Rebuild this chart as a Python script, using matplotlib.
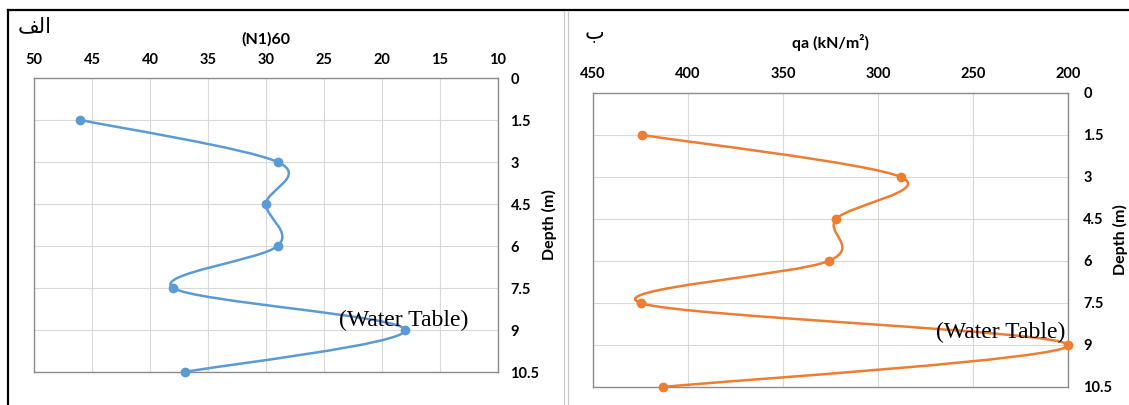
import matplotlib
matplotlib.use("Agg")
import matplotlib.pyplot as plt
from matplotlib.path import Path
from matplotlib.patches import PathPatch
from matplotlib.lines import Line2D

# ---- data ----
depth = [1.5, 3, 4.5, 6, 7.5, 9, 10.5]
n160 = [46, 29, 30, 29, 38, 18, 37]
qa = [424, 288, 322, 326, 425, 200, 413]
depth_ticks = [0, 1.5, 3, 4.5, 6, 7.5, 9, 10.5]
depth_ticklabels = ["0", "1.5", "3", "4.5", "6", "7.5", "9", "10.5"]
n_ticks = [50, 45, 40, 35, 30, 25, 20, 15, 10]
qa_ticks = [450, 400, 350, 300, 250, 200]
label_a = "\uFED2\uFEDF\uFE8D"   # الف (visual order, shaped forms)
label_b = "ب"
water_label = "(Water Table)"

BLUE = "#5B9BD5"
ORANGE = "#ED7D31"
TICKFONT = dict(family="Lato", weight="bold", size=10.5)
LABELFONT = dict(family="Lato", weight="bold", size=11.5)

def smooth_path(xs, ys):
    pts = list(zip(xs, ys))
    n = len(pts)
    verts = [pts[0]]
    codes = [Path.MOVETO]
    for i in range(n - 1):
        p0 = pts[i - 1] if i > 0 else pts[i]
        p1 = pts[i]
        p2 = pts[i + 1]
        p3 = pts[i + 2] if i + 2 < n else pts[i + 1]
        c1 = (p1[0] + (p2[0] - p0[0]) / 6.0, p1[1] + (p2[1] - p0[1]) / 6.0)
        c2 = (p2[0] - (p3[0] - p1[0]) / 6.0, p2[1] - (p3[1] - p1[1]) / 6.0)
        verts += [c1, c2, p2]
        codes += [Path.CURVE4] * 3
    return Path(verts, codes)

fig = plt.figure(figsize=(11.29, 4.05), dpi=100)

def setup(ax, xlim, xticks, xlabel, xlabelpad, xtickpad, ytickpad, ylabelpad):
    ax.set_xlim(*xlim)
    ax.set_ylim(10.5, 0)
    ax.set_xticks(xticks)
    ax.set_xticklabels([str(t) for t in xticks], fontdict=TICKFONT)
    ax.set_yticks(depth_ticks)
    ax.set_yticklabels(depth_ticklabels, fontdict=TICKFONT)
    ax.xaxis.tick_top()
    ax.xaxis.set_label_position("top")
    ax.yaxis.tick_right()
    ax.yaxis.set_label_position("right")
    ax.tick_params(axis="x", length=0, pad=xtickpad)
    ax.tick_params(axis="y", length=0, pad=ytickpad)
    ax.grid(True, color="#d9d9d9", linewidth=0.8)
    ax.set_axisbelow(True)
    for s in ax.spines.values():
        s.set_color("#8c8c8c")
        s.set_linewidth(1.0)
    ax.set_xlabel(xlabel, fontdict=LABELFONT, labelpad=xlabelpad)
    ax.set_ylabel("Depth (m)", fontdict=LABELFONT, labelpad=ylabelpad)

def draw_series(ax, xs, ys, color):
    patch = PathPatch(smooth_path(xs, ys), facecolor="none", edgecolor=color,
                      linewidth=1.8, zorder=3)
    ax.add_patch(patch)
    ax.plot(xs, ys, linestyle="none", marker="o", markersize=6, color=color, zorder=4,
            clip_on=False)

# left panel
ax1 = fig.add_axes([34 / 1129, 1 - 372 / 405, 464 / 1129, 294 / 405])
setup(ax1, (50, 10), n_ticks, "(N1)60", 6.5, 8, 9, 2)
draw_series(ax1, n160, depth, BLUE)
ax1.text(18.1, 8.66, water_label, family="Liberation Serif", fontsize=17,
         ha="center", va="center", zorder=5)

# right panel
ax2 = fig.add_axes([593 / 1129, 1 - 387 / 405, 475 / 1129, 294 / 405])
setup(ax2, (450, 200), qa_ticks, "qa (kN/m\u00b2)", 13, 9, 11, 0.5)
draw_series(ax2, qa, depth, ORANGE)
ax2.text(235.3, 8.55, water_label, family="Liberation Serif", fontsize=17,
         ha="center", va="center", zorder=5)

# panel labels
fig.text(35 / 1129, 1 - 26 / 405, label_a, family="DejaVu Sans", fontsize=15,
         ha="center", va="center")
fig.text(595 / 1129, 1 - 32 / 405, label_b, family="DejaVu Sans", fontsize=15,
         ha="center", va="center")

# outer frame lines
fig.add_artist(Line2D([8 / 1129, 1], [1 - 10 / 405, 1 - 10 / 405], color="black",
                      linewidth=1.6, transform=fig.transFigure))
fig.add_artist(Line2D([8 / 1129, 8 / 1129], [0, 1 - 10 / 405], color="black",
                      linewidth=1.6, transform=fig.transFigure))
for xp in (564, 568):
    fig.add_artist(Line2D([xp / 1129, xp / 1129], [0, 1 - 11 / 405], color="#c8c8c8",
                          linewidth=0.9, transform=fig.transFigure))

fig.savefig("out.png", dpi=100)
